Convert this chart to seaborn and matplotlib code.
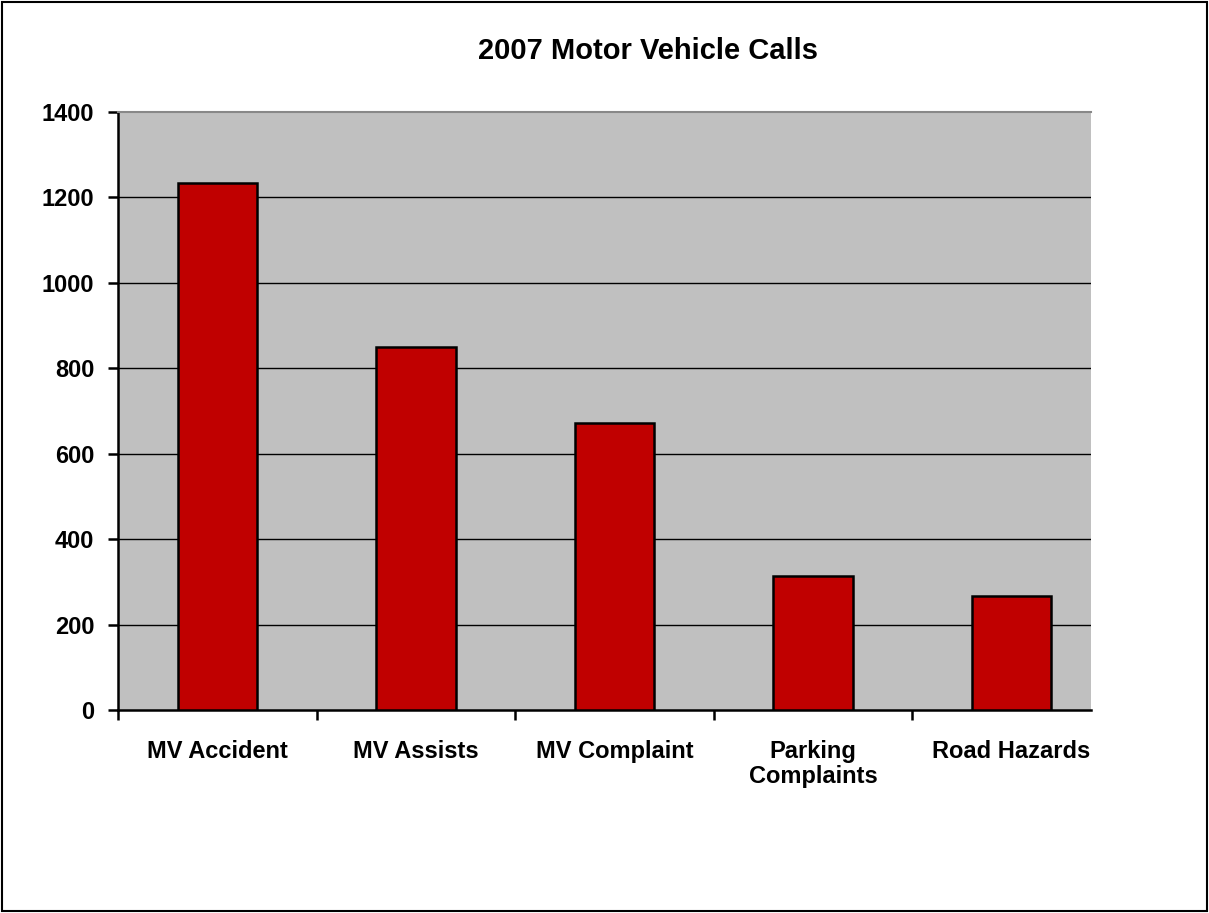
import matplotlib
matplotlib.use("Agg")
import matplotlib.pyplot as plt
import seaborn as sns
import pandas as pd

# data
categories = ["MV Accident", "MV Assists", "MV Complaint", "Parking\nComplaints", "Road Hazards"]
calls = [1234, 850, 671, 313, 268]
y_ticks = [0, 200, 400, 600, 800, 1000, 1200, 1400]
title = "2007 Motor Vehicle Calls"

df = pd.DataFrame({"category": categories, "calls": calls})

sns.set_style("white")
plt.rcParams["font.family"] = ["Liberation Sans", "DejaVu Sans"]
plt.rcParams["font.weight"] = "bold"
plt.rcParams["text.color"] = "black"
plt.rcParams["xtick.color"] = "black"
plt.rcParams["ytick.color"] = "black"

fig = plt.figure(figsize=(12.09, 9.13), dpi=100)
ax = fig.add_axes([118 / 1209, 1 - 710 / 913, 973 / 1209, 598 / 913])
ax.set_facecolor("#c0c0c0")

sns.barplot(data=df, x="category", y="calls", color="#c00000", width=0.40,
            edgecolor="black", linewidth=1.8, saturation=1, ax=ax, zorder=3)

# plot area is cut off a little past the last bar, as in the original
ax.set_xlim(-0.5, 4.4)
ax.set_ylim(0, 1400)
ax.set_yticks(y_ticks)
ax.yaxis.grid(True, color="black", linewidth=1.0)
ax.set_axisbelow(True)
for val, gl in zip(y_ticks, ax.get_ygridlines()):
    gl.set_zorder(1)
    if val in (0, 1400):
        gl.set_visible(False)

# ticks between categories, labels centred under the bars
ax.set_xticks([i - 0.5 for i in range(len(categories))], minor=False)
ax.set_xticklabels([])
ax.set_xticks(range(len(categories)), minor=True)
ax.set_xticklabels(categories, minor=True, fontsize=17, fontweight="bold",
                   color="black", linespacing=1.1)
ax.tick_params(axis="x", which="minor", length=0, pad=21.5)
ax.tick_params(axis="x", which="major", length=7, width=1.8, direction="out", bottom=True)
ax.tick_params(axis="y", length=7, width=1.8, direction="out", left=True,
               labelsize=17, pad=10, labelcolor="black")
for lab in ax.get_yticklabels():
    lab.set_fontweight("bold")

ax.set_xlabel("")
ax.set_ylabel("")
ax.spines["right"].set_visible(False)
ax.spines["top"].set_color("#888888")
ax.spines["top"].set_linewidth(1.5)
for s in ["left", "bottom"]:
    ax.spines[s].set_color("black")
    ax.spines[s].set_linewidth(1.8)

fig.text(648 / 1209, 1 - 51 / 913, title, ha="center", va="center",
         fontsize=21, fontweight="bold", color="black")

# outer frame
fig.patches.append(plt.Rectangle((0.002, 0.002), 0.996, 0.996, transform=fig.transFigure,
                                 fill=False, edgecolor="black", linewidth=1.5))

plt.savefig("out.png", dpi=100)
plt.close()
